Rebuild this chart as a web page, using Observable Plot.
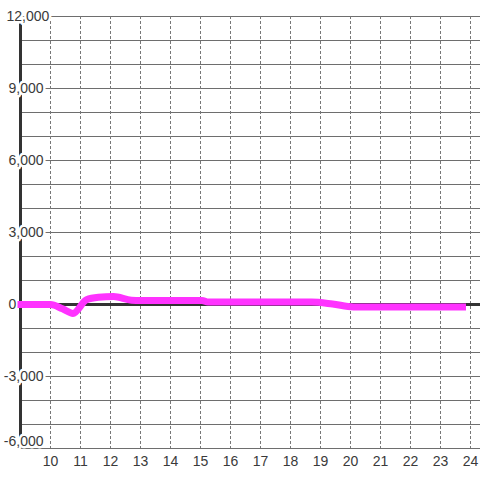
<!DOCTYPE html>
<html>
<head>
<meta charset="utf-8">
<script src="https://cdn.jsdelivr.net/npm/d3@7"></script>
<script src="https://cdn.jsdelivr.net/npm/@observablehq/plot@0.6"></script>
<style>
  html, body { margin: 0; padding: 0; background: #ffffff; }
  #chart { width: 480px; height: 480px; }
</style>
</head>
<body>
<div id="chart"></div>
<script>
// Series: hour of day vs value
const hours  = [8.9, 10.0, 10.4, 10.75, 11.2, 11.6, 12.1, 12.7, 13.0, 15.05, 15.25, 18.7, 19.4, 20.1, 23.85];
const values = [0,   0,    -180, -370,  200,  300,  330,  180,  170,  170,   100,   100,  20,   -100, -100];

// Axis ticks
const xTicks = [10, 11, 12, 13, 14, 15, 16, 17, 18, 19, 20, 21, 22, 23, 24];
const yLabelTicks = [-6000, -3000, 0, 3000, 6000, 9000, 12000];
const yGridTicks = d3.range(-6000, 12001, 1000);

const data = hours.map((h, i) => ({hour: h, value: values[i]}));
const fmt = d => d3.format(",")(d).replace("−", "-");
const font = "Liberation Sans, Arial, sans-serif";
const labelStyle = {fontSize: 14, fill: "#3a3a3a", stroke: "#ffffff", strokeWidth: 5, frameAnchor: "left"};

const chart = Plot.plot({
  width: 480,
  height: 480,
  marginTop: 16,
  marginBottom: 32,
  marginLeft: 20,
  marginRight: 0,
  style: {background: "#ffffff", fontFamily: font},
  x: {domain: [9, 24.3333], axis: null},
  y: {domain: [-6000, 12000], axis: null},
  marks: [
    Plot.ruleY(yGridTicks, {stroke: "#6e6e6e", strokeWidth: 1}),
    Plot.ruleX(xTicks, {stroke: "#777777", strokeWidth: 1, strokeDasharray: "3,2"}),
    Plot.ruleY([0], {stroke: "#333333", strokeWidth: 3}),
    Plot.ruleX([9], {stroke: "#333333", strokeWidth: 3}),
    // y labels (regular: right-aligned)
    Plot.text(yLabelTicks, {
      ...labelStyle,
      filter: d => d !== 0 && d !== 12000 && d !== -6000,
      y: d => d, dx: 23, textAnchor: "end", text: fmt
    }),
    Plot.text(yLabelTicks, {
      ...labelStyle,
      filter: d => d === -6000,
      y: d => d, dx: 23, dy: -7, textAnchor: "end", text: fmt
    }),
    Plot.text(yLabelTicks, {
      ...labelStyle,
      filter: d => d === 0,
      y: d => d, dx: -12, textAnchor: "start", text: fmt
    }),
    Plot.text(yLabelTicks, {
      ...labelStyle,
      filter: d => d === 12000,
      y: d => d, dx: -14, textAnchor: "start", text: fmt
    }),
    // x labels
    Plot.text(xTicks, {
      x: d => d, frameAnchor: "bottom", dy: 13, lineAnchor: "middle",
      text: d => String(d), fontSize: 14, fill: "#3a3a3a"
    }),
    Plot.line(data, {
      x: "hour", y: "value", stroke: "#ff33ff", strokeWidth: 7,
      curve: "monotone-x", strokeLinecap: "butt", strokeLinejoin: "round"
    })
  ]
});
document.getElementById("chart").appendChild(chart);
</script>
</body>
</html>
